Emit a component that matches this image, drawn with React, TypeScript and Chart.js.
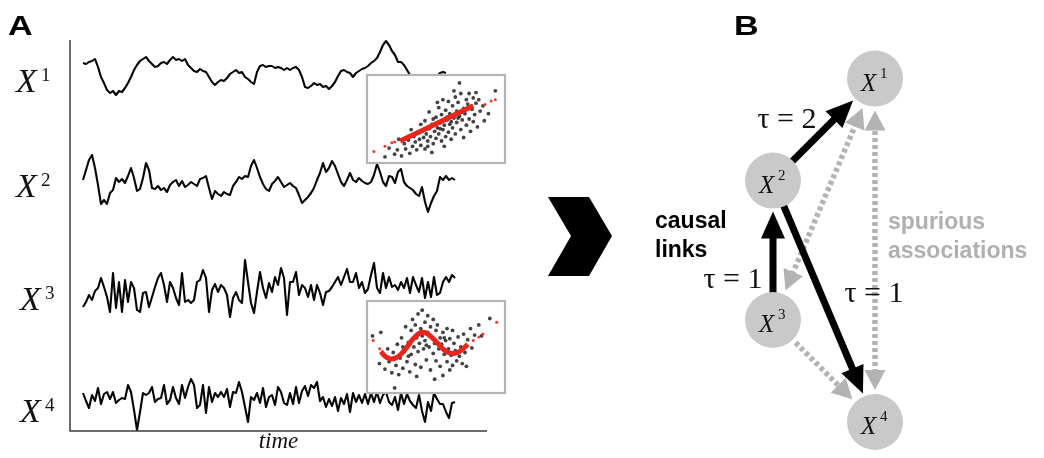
import React, { useEffect, useRef } from "react";
import { Chart, registerables } from "chart.js";
Chart.register(...registerables);

const W = 1044;
const H = 458;

// ---------- Panel A: time series (values in arbitrary units) ----------
const seriesLabels = ["1", "2", "3", "4"];

const X1 = [
  0.7, 0.6, 0.8, 0.9, 1.1, 0.3, -0.7, -1.3, -2.0, -2.3,
  -2.1, -2.5, -2.1, -2.2, -1.8, -1.3, -0.7, 0.0, 0.5, 0.9,
  1.1, 1.3, 0.9, 0.6, 0.3, 0.4, 0.7, 0.8, 0.6, 1.0,
  1.3, 1.0, 1.1, 0.9, 1.1, 0.5, 0.2, -0.1, -0.2, 0.1,
  -0.1, -0.2, -0.7, -1.2, -1.5, -1.2, -1.0, -1.1, -0.8, -0.4,
  -0.2, 0.0, -0.3, -0.2, -0.7, -0.9, -1.2, -1.4, -0.2, 0.4,
  0.5, 0.3, 0.4, 0.4, 0.2, 0.3, 0.2, 0.0, 0.2, 0.0,
  0.2, 0.3, 0.0, -0.7, -1.7, -1.8, -1.6, -1.3, -1.5, -1.4,
  -1.7, -1.6, -1.9, -1.6, -1.2, -0.6, -0.1, 0.0, -0.2, -0.3,
  -0.7, -0.3, -0.1, 0.1, 0.2, 0.4, 0.7, 0.9, 1.2, 1.8,
  2.5, 2.9, 2.5, 1.9, 1.5, 0.8, 0.8, 0.5, 0.0, -0.5,
  -0.8, -0.9, -1.0, -1.1, -1.0, -0.9, -0.8, -0.7, -0.6, -0.3,
  -0.2, -0.3,
];

const X2 = [
  0.3, 1.3, 2.3, 2.8, 1.5, -0.2, -2.1, -1.7, -2.1, -1.0,
  -0.7, 0.5, 0.1, 0.4, 0.0, 0.7, 1.5, 0.5, -0.8, -0.6,
  0.5, 2.0, 1.3, -0.5, -0.6, -0.3, -0.7, -0.5, -0.9, -0.2,
  0.1, 0.3, -0.3, 0.2, -0.4, -0.2, 0.1, -0.1, -0.3, 0.4,
  0.5, 0.7, -0.5, -1.6, -0.8, -1.1, -1.3, -0.9, -1.1, -1.2,
  -0.3, 0.1, 0.6, 0.4, 0.7, 0.6, 1.7, 2.3, 1.5, 0.6,
  -0.1, -0.6, -0.8, -0.1, 0.2, 0.6, 0.1, -0.4, -0.2, 0.0,
  -0.3, -0.5, -1.2, -2.0, -1.7, -1.4, -1.0, -0.5, 0.3, 1.0,
  2.0, 1.1, 1.5, 2.2, 1.7, 0.9, 0.1, -0.3, 0.3, 1.0,
  0.3, 0.1, 0.5, 0.2, 0.0, -0.1, 0.1, 0.8, 1.9, 1.1,
  0.1, -0.3, 0.7, 0.6, 0.0, 1.1, 1.4, 0.1, -0.3, -0.5,
  -0.7, -1.1, -1.3, -0.4, -1.9, -2.9, -2.0, -1.3, -0.8, 0.6,
  0.3, 0.7, 0.3, 0.5, 0.3,
];

const X3 = [
  -1.5, -1.0, -0.3, -0.8, 0.1, 0.4, 1.4, 0.5, -0.5, -2.0,
  1.9, -1.6, 1.0, -2.0, 1.2, -1.0, 1.0, 0.4, -1.8, -2.0,
  -0.1, 0.0, -1.5, -0.5, 0.5, 1.4, 1.9, 0.7, -1.0, 1.0,
  0.4, -0.6, -1.3, 1.9, -1.0, -0.8, -1.1, -0.8, 1.0, 1.2,
  2.2, 1.4, -2.0, 0.2, 0.8, 0.0, 0.7, 0.4, -0.3, -2.5,
  -0.6, 0.0, -0.8, -1.1, 3.2, 1.0, -1.1, -2.1, 0.0, 2.0,
  0.4, -0.6, 0.9, 0.0, 1.5, 0.7, 2.4, 1.4, -2.3, 1.0,
  1.0, 2.0, -0.3, 0.7, 0.4, -0.5, 0.7, -0.8, 0.7, -0.1,
  -1.3, 0.0, 0.1, 0.5, 1.0, 1.5, 0.7, 1.5, 2.3, 1.0,
  1.0, 1.9, 0.4, 1.0, -0.1, 0.3, 1.7, 2.9, 0.4, -0.1,
  1.9, 0.4, 1.5, 0.5, 0.7, 0.2, 1.0, 0.4, 1.4, -0.1,
  1.5, 0.7, 0.0, 1.4, -0.6, 1.0, -0.5, 1.5, -0.3, -0.1,
  1.0, 1.5, 1.0, 1.7, 1.4,
];

const X4 = [
  0.5, -0.3, -1.0, 0.3, -0.3, 1.0, -0.6, 0.4, 0.6, -0.1,
  0.6, -0.5, -0.2, 0.0, -0.1, 1.3, 0.6, -1.2, -3.2, -1.4,
  0.5, 0.3, 0.5, 1.1, -0.4, -0.1, 0.0, 1.3, -0.6, -0.2,
  1.1, 0.0, -0.6, 1.3, 0.0, 1.1, 1.9, 1.3, -1.0, -0.7,
  1.3, -1.5, 1.1, -0.4, 0.5, 0.1, 0.6, 0.1, 0.9, -0.9,
  0.6, 0.5, 1.6, 0.6, -0.9, -2.4, 0.1, -0.2, 0.5, -0.5,
  1.0, -0.9, 0.1, 0.3, -0.7, 1.1, 0.6, -0.5, -0.7, 0.5,
  -0.6, 1.1, -0.5, 0.7, 1.2, 0.2, 1.3, 1.0, 1.6, -0.3,
  0.1, -0.9, -0.1, -0.8, 0.1, -1.3, 0.0, -0.6, 0.4, -1.4,
  0.5, -0.4, 0.3, -0.5, 0.4, -0.6, 0.5, -0.4, 0.6, -0.5,
  0.3, 0.6, -0.4, -0.7, 0.1, -1.2, 0.5, -0.6, 0.4, -0.3,
  -0.7, -1.0, 0.3, -1.3, -2.4, -0.4, -1.3, 0.5, -0.1, -0.6,
  -0.6, -1.4, -2.0, -0.5, -0.4,
];

// ---------- Insets: scatter points [x, y] ----------
const inset1Points: [number, number][] = [
  [1.3, 0.7], [2.5, 0.8], [2.2, 1.5], [2.8, 1.6], [2.3, 2.7], [2.7, 2.2], [3.0, 2.6], [3.1, 1.1],
  [3.3, 1.9], [3.4, 3.0], [3.5, 2.4], [3.6, 1.5], [3.7, 3.4], [3.8, 2.7], [3.9, 2.0], [4.0, 3.6],
  [4.1, 2.9], [4.2, 1.6], [4.2, 4.8], [4.3, 3.3], [4.4, 2.5], [4.5, 3.9], [4.5, 5.8], [4.6, 3.0],
  [4.7, 1.2], [4.7, 4.4], [4.8, 2.2], [4.9, 3.6], [5.0, 5.2], [5.0, 2.8], [5.1, 4.0], [5.2, 6.3],
  [5.2, 3.3], [5.3, 4.6], [5.4, 2.5], [5.4, 5.5], [5.5, 3.8], [5.5, 7.2], [5.6, 4.3], [5.7, 3.0],
  [5.7, 6.0], [5.8, 4.9], [5.9, 3.5], [5.9, 7.0], [6.0, 4.4], [6.0, 5.6], [6.1, 2.7], [6.2, 6.5],
  [6.2, 4.0], [6.3, 5.1], [6.4, 7.5], [6.4, 3.3], [6.5, 5.9], [6.5, 4.6], [6.6, 6.9], [6.7, 9.1],
  [6.7, 5.3], [6.8, 3.8], [6.8, 7.9], [6.9, 4.9], [7.0, 6.2], [7.0, 2.9], [7.1, 5.6], [7.2, 7.2],
  [7.2, 4.3], [7.3, 6.7], [7.4, 5.0], [7.4, 7.9], [7.5, 3.6], [7.6, 6.1], [7.7, 7.4], [7.7, 4.7],
  [7.8, 5.5], [7.9, 6.8], [8.0, 4.1], [8.1, 7.2], [8.2, 5.9], [8.4, 6.5], [8.5, 4.8], [2.0, 1.0],
  [1.6, 1.7], [3.9, 4.4], [4.4, 1.9], [5.6, 1.9], [6.3, 8.2], [5.1, 6.9], [7.9, 8.0], [9.3, 8.2],
  [8.8, 5.6], [3.2, 3.8], [4.8, 5.0], [5.8, 5.2], [6.1, 4.7], [6.6, 5.1], [5.3, 3.9],
];
const inset1FitLine: [number, number][] = [[2.4, 2.5], [4.0, 3.7], [5.6, 4.9], [7.7, 6.5]];
const inset1FitDots: [number, number][] = [
  [0.5, 1.3], [1.3, 1.9], [1.8, 2.3], [2.0, 2.4], [8.55, 6.65], [9.0, 7.05], [9.3, 7.2],
];

const inset2Points: [number, number][] = [
  [0.4, 6.2], [1.0, 6.6], [0.9, 3.2], [1.3, 2.6], [1.5, 4.8], [1.6, 3.4], [1.8, 2.2], [1.9, 4.4],
  [2.0, 0.55], [2.1, 3.0], [2.2, 5.3], [2.3, 2.0], [2.4, 3.8], [2.5, 6.0], [2.6, 2.7], [2.7, 4.5],
  [2.8, 7.2], [2.9, 3.4], [3.0, 5.5], [3.1, 2.3], [3.2, 6.8], [3.2, 4.2], [3.3, 8.0], [3.4, 5.0],
  [3.5, 3.1], [3.5, 7.4], [3.6, 6.0], [3.7, 4.5], [3.7, 8.6], [3.8, 5.4], [3.9, 7.0], [3.9, 2.8],
  [4.0, 9.0], [4.0, 6.2], [4.1, 4.8], [4.2, 7.7], [4.2, 5.7], [4.3, 3.6], [4.4, 8.4], [4.4, 6.6],
  [4.5, 5.0], [4.6, 7.2], [4.6, 2.5], [4.7, 6.0], [4.8, 4.3], [4.8, 8.0], [4.9, 5.4], [5.0, 6.8],
  [5.0, 3.5], [5.1, 7.4], [5.2, 4.8], [5.3, 6.0], [5.3, 2.9], [5.4, 5.3], [5.5, 1.9], [5.5, 6.6],
  [5.6, 4.2], [5.7, 5.7], [5.8, 3.4], [5.8, 7.0], [5.9, 4.8], [6.0, 2.5], [6.0, 5.9], [6.1, 4.1],
  [6.2, 3.0], [6.3, 5.4], [6.4, 4.6], [6.5, 3.5], [6.6, 6.1], [6.7, 4.0], [6.8, 5.0], [6.9, 3.2],
  [7.0, 6.4], [7.1, 4.4], [7.2, 2.9], [7.3, 5.8], [7.5, 7.0], [7.6, 4.9], [7.8, 6.3], [8.1, 7.4],
  [8.3, 6.2], [8.9, 8.1], [3.6, 1.8], [4.9, 1.5], [2.6, 5.0], [3.0, 4.0], [4.3, 5.2], [5.6, 6.0],
  [6.2, 6.8],
];
const inset2FitLine: [number, number][] = [
  [1.0, 4.5], [1.4, 3.9], [1.8, 3.7], [2.3, 4.0], [2.8, 4.8], [3.3, 5.8], [3.8, 6.5], [4.1, 6.6],
  [4.5, 6.3], [5.0, 5.6], [5.5, 4.8], [5.9, 4.4], [6.3, 4.3], [6.7, 4.5], [7.1, 5.0], [7.3, 5.3],
];
const inset2FitDots: [number, number][] = [
  [0.45, 5.7], [0.92, 4.8], [7.7, 5.7], [8.1, 6.1], [8.4, 6.4], [9.4, 7.7],
];

// ---------- Panel B: graph ----------
const nodeNames = ["1", "2", "3", "4"];
const nodeX = [3, 0, 0, 3];
const nodeY = [10.1, 7.1, 3.0, 0];
// [from, to, kind, headAtStart]
const edges: [number, number, "causal" | "spurious", boolean][] = [
  [2, 0, "spurious", true],
  [3, 0, "spurious", true],
  [2, 3, "spurious", false],
  [1, 0, "causal", false],
  [2, 1, "causal", false],
  [1, 3, "causal", false],
];
const lagLabels = ["τ = 2", "τ = 1", "τ = 1"];

// ---------- layout ----------
const A_AREA = { left: 70, top: 40, right: 487, bottom: 431 };
const A_X0 = 83;
const A_STEP = 3;
const A_CENTERS = [70, 183, 292, 398];
const A_PX_PER_UNIT = 10;
const A_LABEL_X = [16, 16, 20, 20];
const A_LABEL_BASE = [92, 197, 310, 422];
const INSET1 = { left: 367, top: 75, right: 505, bottom: 163 };
const INSET2 = { left: 367, top: 301, right: 505, bottom: 393 };
const B_LEFT = 640;
const B_PX = 34;
const B_X2_PX = 773;
const B_X4_PY = 422;

const SERIF = '"Liberation Serif", "Times New Roman", serif';
const SANS = '"Liberation Sans", Arial, sans-serif';

function drawMathLabel(ctx: CanvasRenderingContext2D, x: number, base: number, sup: string, size: number, supSize: number, supDx: number, supDy: number) {
  ctx.font = `italic ${size}px ${SERIF}`;
  ctx.textAlign = "left";
  ctx.textBaseline = "alphabetic";
  ctx.fillText("X", x, base);
  ctx.font = `${supSize}px ${SERIF}`;
  ctx.fillText(sup, x + supDx, base - supDy);
}

function drawBoldLetter(ctx: CanvasRenderingContext2D, s: string, x: number, base: number) {
  ctx.save();
  ctx.translate(x, base);
  ctx.scale(1.22, 1);
  ctx.font = `bold 28px ${SANS}`;
  ctx.textAlign = "left";
  ctx.fillStyle = "#000";
  ctx.fillText(s, 0, 0);
  ctx.restore();
}

const panelAPlugin = {
  id: "panelA",
  afterDraw(chart: any) {
    const { ctx, chartArea: a } = chart;
    ctx.save();
    ctx.strokeStyle = "#3c3c3c";
    ctx.lineWidth = 1.5;
    ctx.beginPath();
    ctx.moveTo(a.left, a.top);
    ctx.lineTo(a.left, a.bottom);
    ctx.lineTo(a.right, a.bottom);
    ctx.stroke();
    ctx.fillStyle = "#111";
    ctx.font = `italic 23px ${SERIF}`;
    ctx.textAlign = "center";
    ctx.fillText("time", (a.left + a.right) / 2, 448);
    seriesLabels.forEach((s, k) => {
      drawMathLabel(ctx, A_LABEL_X[k], A_LABEL_BASE[k], s, 34, 19, 25, 11);
    });
    drawBoldLetter(ctx, "A", 8, 35);
    // chevron
    ctx.fillStyle = "#000";
    ctx.beginPath();
    ctx.moveTo(548, 197);
    ctx.lineTo(589, 197);
    ctx.lineTo(612, 236);
    ctx.lineTo(589, 276);
    ctx.lineTo(548, 276);
    ctx.lineTo(571, 236);
    ctx.closePath();
    ctx.fill();
    ctx.restore();
  },
};

const insetFramePlugin = {
  id: "insetFrame",
  beforeDraw(chart: any) {
    const { ctx, chartArea: a } = chart;
    ctx.save();
    ctx.fillStyle = "#fff";
    ctx.fillRect(a.left - 1, a.top - 1, a.right - a.left + 2, a.bottom - a.top + 2);
    ctx.restore();
  },
  afterDraw(chart: any) {
    const { ctx, chartArea: a } = chart;
    ctx.save();
    ctx.strokeStyle = "#b4b4b4";
    ctx.lineWidth = 2.2;
    ctx.strokeRect(a.left, a.top, a.right - a.left, a.bottom - a.top);
    ctx.restore();
  },
};

function drawArrow(ctx: CanvasRenderingContext2D, x1: number, y1: number, x2: number, y2: number, o: { color: string; width: number; dash: number[]; headLen: number; headW: number; startHead: boolean; endHead: boolean }) {
  const dx = x2 - x1, dy = y2 - y1;
  const L = Math.hypot(dx, dy);
  const ux = dx / L, uy = dy / L;
  const px = -uy, py = ux;
  const sx = o.startHead ? x1 + ux * o.headLen * 0.85 : x1;
  const sy = o.startHead ? y1 + uy * o.headLen * 0.85 : y1;
  const ex = o.endHead ? x2 - ux * o.headLen * 0.85 : x2;
  const ey = o.endHead ? y2 - uy * o.headLen * 0.85 : y2;
  ctx.save();
  ctx.strokeStyle = o.color;
  ctx.fillStyle = o.color;
  ctx.lineWidth = o.width;
  ctx.lineCap = "butt";
  ctx.setLineDash(o.dash);
  ctx.beginPath();
  ctx.moveTo(sx, sy);
  ctx.lineTo(ex, ey);
  ctx.stroke();
  ctx.setLineDash([]);
  const head = (tx: number, ty: number, dirx: number, diry: number) => {
    const bx = tx - dirx * o.headLen, by = ty - diry * o.headLen;
    ctx.beginPath();
    ctx.moveTo(tx, ty);
    ctx.lineTo(bx + px * o.headW / 2, by + py * o.headW / 2);
    ctx.lineTo(bx - px * o.headW / 2, by - py * o.headW / 2);
    ctx.closePath();
    ctx.fill();
  };
  if (o.endHead) head(x2, y2, ux, uy);
  if (o.startHead) head(x1, y1, -ux, -uy);
  ctx.restore();
}

const panelBPlugin = {
  id: "panelB",
  beforeDatasetsDraw(chart: any) {
    const { ctx } = chart;
    const pts = chart.getDatasetMeta(0).data;
    const drawEdge = (e: [number, number, string, boolean]) => {
      const [f, t, kind, both] = e;
      const a = pts[f], b = pts[t];
      const dx = b.x - a.x, dy = b.y - a.y;
      const L = Math.hypot(dx, dy);
      const ux = dx / L, uy = dy / L;
      const causal = kind === "causal";
      const g0 = causal ? 27 : 32;
      const g1 = causal ? 31 : 32;
      drawArrow(ctx, a.x + ux * g0, a.y + uy * g0, b.x - ux * g1, b.y - uy * g1, causal
        ? { color: "#000", width: 7, dash: [], headLen: 27, headW: 24, startHead: false, endHead: true }
        : { color: "#b3b3b3", width: 5.5, dash: [4, 3], headLen: 20, headW: 21, startHead: both, endHead: true });
    };
    edges.filter((e) => e[2] === "spurious").forEach(drawEdge);
    edges.filter((e) => e[2] === "causal").forEach(drawEdge);
  },
  afterDatasetsDraw(chart: any) {
    const { ctx } = chart;
    const pts = chart.getDatasetMeta(0).data;
    ctx.save();
    ctx.fillStyle = "#111";
    pts.forEach((p: any, i: number) => {
      drawMathLabel(ctx, p.x - 14, p.y + 12, nodeNames[i], 25, 15, 19, 13);
    });
    ctx.font = `30px ${SERIF}`;
    ctx.textAlign = "center";
    ctx.textBaseline = "alphabetic";
    ctx.fillStyle = "#111";
    ctx.fillText(lagLabels[0], 787, 128);
    ctx.fillText(lagLabels[1], 733, 288);
    ctx.fillText(lagLabels[2], 874, 302);
    ctx.textAlign = "left";
    ctx.font = `bold 23px ${SANS}`;
    ctx.fillStyle = "#000";
    ctx.fillText("causal", 655, 228);
    ctx.fillText("links", 655, 257);
    ctx.fillStyle = "#b0b0b0";
    ctx.fillText("spurious", 888, 229);
    ctx.fillText("associations", 888, 258);
    ctx.restore();
    drawBoldLetter(ctx, "B", 734, 35);
  },
};

const baseOptions = {
  responsive: false,
  animation: false,
  devicePixelRatio: 1,
  events: [],
  plugins: { legend: { display: false }, tooltip: { enabled: false } },
};

function panelAConfig(): any {
  const series = [X1, X2, X3, X4];
  const scales: any = {
    x: {
      type: "linear",
      display: false,
      min: -(A_X0 - A_AREA.left) / A_STEP,
      max: (A_AREA.right - A_X0) / A_STEP,
    },
  };
  A_CENTERS.forEach((c, k) => {
    scales["y" + (k + 1)] = {
      type: "linear",
      display: false,
      min: (c - A_AREA.bottom) / A_PX_PER_UNIT,
      max: (c - A_AREA.top) / A_PX_PER_UNIT,
    };
  });
  return {
    type: "line",
    data: {
      datasets: series.map((vals, k) => ({
        label: "X" + seriesLabels[k],
        data: vals.map((v, i) => ({ x: i, y: v })),
        yAxisID: "y" + (k + 1),
        borderColor: "#050505",
        borderWidth: 2.1,
        pointRadius: 0,
        tension: 0,
        clip: false,
        borderJoinStyle: "round",
      })),
    },
    options: {
      ...baseOptions,
      layout: { autoPadding: false, padding: { left: A_AREA.left, top: A_AREA.top, right: W - A_AREA.right, bottom: H - A_AREA.bottom } },
      scales,
    },
    plugins: [panelAPlugin],
  };
}

function insetConfig(box: { left: number; top: number; right: number; bottom: number }, pts: [number, number][], fitLine: [number, number][], fitDots: [number, number][], curve: number): any {
  const toXY = (a: [number, number][]) => a.map(([x, y]) => ({ x, y }));
  return {
    type: "scatter",
    data: {
      datasets: [
        { data: toXY(fitLine), showLine: true, borderColor: "#e8261c", borderWidth: 5, pointRadius: 0, tension: curve },
        { data: toXY(fitDots), pointRadius: 1.5, pointBackgroundColor: "#ee3a30", pointBorderWidth: 0 },
        { data: toXY(pts), pointRadius: 1.9, pointBackgroundColor: "rgba(20,20,20,0.8)", pointBorderWidth: 0 },
      ],
    },
    options: {
      ...baseOptions,
      layout: { autoPadding: false, padding: { left: box.left, top: box.top, right: W - box.right, bottom: H - box.bottom } },
      scales: {
        x: { type: "linear", display: false, min: 0, max: 10 },
        y: { type: "linear", display: false, min: 0, max: 10 },
      },
    },
    plugins: [insetFramePlugin],
  };
}

function panelBConfig(): any {
  const xmin = -(B_X2_PX - B_LEFT) / B_PX;
  const ymax = B_X4_PY / B_PX;
  return {
    type: "scatter",
    data: {
      datasets: [
        {
          data: nodeX.map((x, i) => ({ x, y: nodeY[i] })),
          pointRadius: 28,
          pointHoverRadius: 28,
          pointBackgroundColor: "#c9c9c9",
          pointBorderWidth: 0,
          clip: false,
        },
      ],
    },
    options: {
      ...baseOptions,
      layout: { autoPadding: false, padding: { left: B_LEFT, top: 0, right: 0, bottom: 0 } },
      scales: {
        x: { type: "linear", display: false, min: xmin, max: xmin + (W - B_LEFT) / B_PX },
        y: { type: "linear", display: false, min: ymax - H / B_PX, max: ymax },
      },
    },
    plugins: [panelBPlugin],
  };
}

export default function App() {
  const aRef = useRef<HTMLCanvasElement>(null);
  const i1Ref = useRef<HTMLCanvasElement>(null);
  const i2Ref = useRef<HTMLCanvasElement>(null);
  const bRef = useRef<HTMLCanvasElement>(null);

  useEffect(() => {
    const charts: Chart[] = [];
    charts.push(new Chart(aRef.current!, panelAConfig()));
    charts.push(new Chart(i1Ref.current!, insetConfig(INSET1, inset1Points, inset1FitLine, inset1FitDots, 0)));
    charts.push(new Chart(i2Ref.current!, insetConfig(INSET2, inset2Points, inset2FitLine, inset2FitDots, 0.4)));
    charts.push(new Chart(bRef.current!, panelBConfig()));
    return () => charts.forEach((c) => c.destroy());
  }, []);

  const cs: React.CSSProperties = { position: "absolute", left: 0, top: 0, width: W, height: H };
  return (
    <div style={{ position: "absolute", left: 0, top: 0, width: W, height: H, background: "#fff", overflow: "hidden" }}>
      <canvas ref={aRef} width={W} height={H} style={cs} />
      <canvas ref={i1Ref} width={W} height={H} style={cs} />
      <canvas ref={i2Ref} width={W} height={H} style={cs} />
      <canvas ref={bRef} width={W} height={H} style={cs} />
    </div>
  );
}
